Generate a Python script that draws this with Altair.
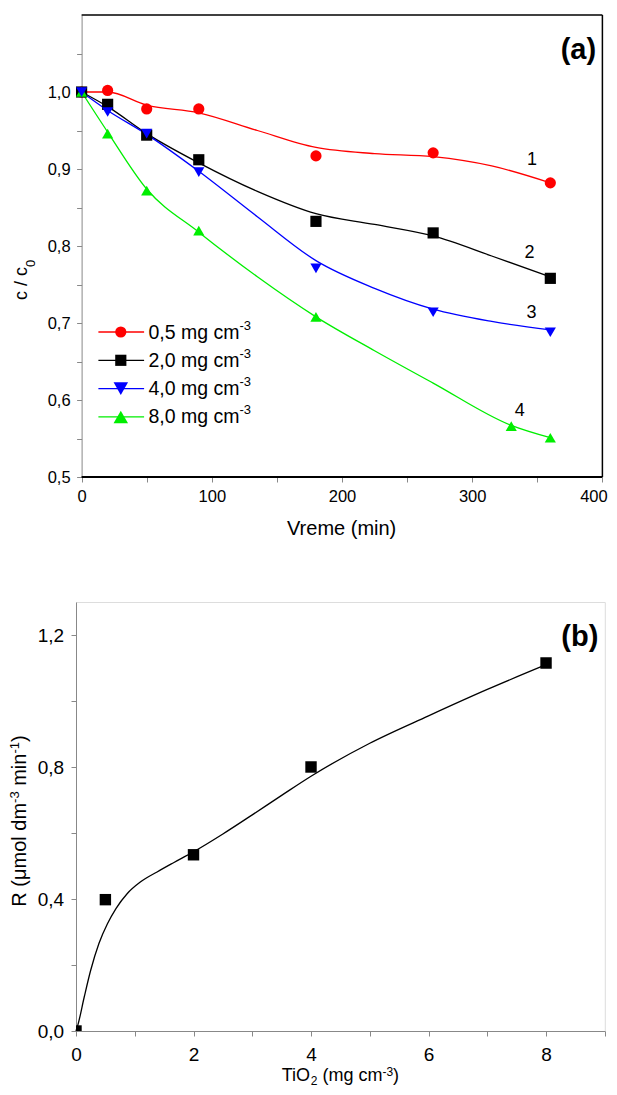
import altair as alt
import pandas as pd

FONT = "Liberation Sans"

# ---------------- Panel (a) data ----------------
series_names = ["0,5", "2,0", "4,0", "8,0"]
series_colors = ["#ff0000", "#000000", "#0000ff", "#00ee00"]
series_shapes = ["circle", "square", "triangle-down", "triangle-up"]
series_sizes = [125, 125, 210, 210]

t_a = [0, 20, 50, 90, 180, 270, 360]
c_05 = [1.0, 1.002, 0.978, 0.978, 0.917, 0.921, 0.882]
c_20 = [1.0, 0.984, 0.944, 0.912, 0.832, 0.817, 0.758]
c_40 = [1.0, 0.974, 0.946, 0.896, 0.771, 0.714, 0.688]
t_a8 = [0, 20, 50, 90, 180, 330, 360]
c_80 = [1.0, 0.946, 0.872, 0.820, 0.708, 0.566, 0.551]

# fitted curves
fit_t_05 = [0, 20, 50, 90, 135, 180, 225, 270, 315, 360]
fit_c_05 = [1.0, 1.0, 0.983, 0.973, 0.950, 0.928, 0.920, 0.916, 0.904, 0.882]
fit_t_20 = [0, 20, 50, 90, 135, 180, 225, 270, 315, 360]
fit_c_20 = [1.0, 0.981, 0.946, 0.908, 0.871, 0.842, 0.828, 0.813, 0.787, 0.760]
fit_t_40 = [0, 20, 50, 90, 135, 180, 225, 270, 315, 360]
fit_c_40 = [1.0, 0.976, 0.945, 0.897, 0.838, 0.781, 0.745, 0.718, 0.702, 0.691]
fit_t_80 = [0, 20, 50, 90, 135, 180, 225, 270, 330, 360]
fit_c_80 = [1.0, 0.948, 0.874, 0.818, 0.760, 0.708, 0.664, 0.622, 0.567, 0.551]

curve_labels = ["1", "2", "3", "4"]
curve_label_t = [346, 344, 345.5, 336.5]
curve_label_c = [0.912, 0.791, 0.713, 0.586]

# axis limits of panel (a)
t_lim = [0, 400]
c_lim = [0.5, 1.1]

# ---------------- Panel (b) data ----------------
tio2 = [0, 0.5, 2, 4, 8]
rate = [0.0, 0.398, 0.534, 0.800, 1.115]
fit_x = [0, 0.03, 0.14, 0.25, 0.39, 0.535, 0.68, 0.87, 1.10, 1.38, 1.66, 2.0, 2.5, 3.0, 3.5, 4.0, 5.0, 6.0, 7.0, 8.0]
fit_r = [0, 0.017, 0.103, 0.184, 0.265, 0.325, 0.371, 0.416, 0.452, 0.482, 0.510, 0.543, 0.597, 0.655, 0.714, 0.772, 0.872, 0.955, 1.035, 1.11]

# ---------------- helpers ----------------
W = {" ": 278, "(": 333, ")": 333, "/": 278, ",": 278, "-": 333, "a": 556, "c": 500,
     "d": 556, "e": 556, "g": 556, "i": 222, "l": 222, "m": 833, "n": 556, "o": 556,
     "r": 333, "R": 722, "T": 611, "O": 778, "V": 667, "μ": 576}


def tw(s, size):
    return sum(W.get(ch, 556) for ch in s) / 1000.0 * size


def rich(segs, x, y, size, ssize, sub_dy, sup_dy, angle=0, center=True):
    widths = [tw(t, size if k == "n" else ssize) for t, k in segs]
    off = -sum(widths) / 2.0 if center else 0.0
    out = []
    for (t, k), w in zip(segs, widths):
        lead = len(t) - len(t.lstrip(" "))
        fs = size if k == "n" else ssize
        dy = 0 if k == "n" else (sub_dy if k == "sub" else sup_dy)
        kw = dict(align="left", baseline="alphabetic", font=FONT, fontSize=fs,
                  dx=off + tw(" " * lead, fs), dy=dy, color="black")
        if angle:
            kw["angle"] = angle
        out.append(
            alt.Chart(pd.DataFrame({"s": [t.lstrip(" ")]}))
            .mark_text(**kw)
            .encode(x=alt.value(x), y=alt.value(y), text="s:N")
        )
        off += w
    return out


# ---------------- Panel (a) ----------------
WA, HA = 526.4, 462
SHIFT = 5.6  # panel (a) plot starts this many px right of panel (b)'s
d0 = -SHIFT * t_lim[1] / (WA - SHIFT)

pts_rows = []
for name, ts, cs in [("0,5", t_a, c_05), ("2,0", t_a, c_20), ("8,0", t_a8, c_80), ("4,0", t_a, c_40)]:
    for t, c in zip(ts, cs):
        pts_rows.append({"series": name, "t": t, "c": c})
df_pts_a = pd.DataFrame(pts_rows)

fit_rows = []
for name, ts, cs in [("0,5", fit_t_05, fit_c_05), ("2,0", fit_t_20, fit_c_20),
                     ("4,0", fit_t_40, fit_c_40), ("8,0", fit_t_80, fit_c_80)]:
    for t, c in zip(ts, cs):
        fit_rows.append({"series": name, "t": t, "c": c})
df_fit_a = pd.DataFrame(fit_rows)

xa = alt.X("t:Q", scale=alt.Scale(domain=[d0, t_lim[1]], nice=False, zero=False),
           axis=alt.Axis(values=list(range(0, 401, 50)), title=None, grid=False, domain=False,
                         labelExpr="datum.value % 100 === 0 ? format(datum.value, 'd') : ''",
                         labelOffset={"condition": {"test": "datum.value === 400", "value": -9}, "value": 0},
                         labelFontSize=16.5, labelPadding=6, labelFlush=False, labelOverlap=False))
ya = alt.Y("c:Q", scale=alt.Scale(domain=c_lim, nice=False, zero=False),
           axis=alt.Axis(values=[round(0.5 + 0.05 * i, 2) for i in range(12)], title=None, grid=False,
                         offset=-SHIFT,
                         labelExpr="abs(datum.value*10 - round(datum.value*10)) < 0.001 && datum.value < 1.05 ? replace(format(datum.value, '.1f'), '.', ',') : ''",
                         labelFontSize=16.5, labelPadding=6.5, labelFlush=False, labelOverlap=False))
col = alt.Color("series:N", scale=alt.Scale(domain=series_names, range=series_colors), legend=None)

frame_a = pd.DataFrame({
    "t": [t_lim[0], t_lim[0], t_lim[1]], "t2": [t_lim[1], t_lim[1], t_lim[1]],
    "c": [c_lim[0], c_lim[1], c_lim[0]], "c2": [c_lim[0], c_lim[1], c_lim[1]],
    "w": [1.8, 1.5, 1.5]})
frame_rules = alt.Chart(frame_a).mark_rule(color="black").encode(
    x=xa, x2="t2:Q", y=ya, y2="c2:Q",
    strokeWidth=alt.StrokeWidth("w:Q", scale=None, legend=None))

lines_a = alt.Chart(df_fit_a).mark_line(strokeWidth=1.3, interpolate="monotone").encode(
    x=xa, y=ya, color=col, detail="series:N")
points_a = alt.Chart(df_pts_a).mark_point(filled=True, opacity=1).encode(
    x=xa, y=ya, color=col,
    shape=alt.Shape("series:N", scale=alt.Scale(domain=series_names, range=series_shapes), legend=None),
    size=alt.Size("series:N", scale=alt.Scale(domain=series_names, range=series_sizes), legend=None))
labels_a = alt.Chart(pd.DataFrame({"lab": curve_labels, "t": curve_label_t, "c": curve_label_c})).mark_text(
    font=FONT, fontSize=18, color="black").encode(x=xa, y=ya, text="lab:N")

layers_a = [frame_rules, lines_a, points_a, labels_a]

# legend (manual, to keep line + marker + superscript)
leg_y0, leg_dy = 317, 28.3
for i, name in enumerate(series_names):
    ry = leg_y0 + i * leg_dy
    one = pd.DataFrame({"s": [name]})
    layers_a.append(alt.Chart(one).mark_rule(color=series_colors[i], strokeWidth=1.3).encode(
        x=alt.value(SHIFT + 16.8), x2=alt.value(SHIFT + 62.5), y=alt.value(ry)))
    layers_a.append(alt.Chart(one).mark_point(filled=True, opacity=1, shape=series_shapes[i],
                                              size=series_sizes[i], color=series_colors[i]).encode(
        x=alt.value(SHIFT + 39.2), y=alt.value(ry)))
    layers_a += rich([(name + " mg cm", "n"), ("-3", "sup")], SHIFT + 66.8, ry + 6.5, 19.5, 13, 0, -9,
                     center=False)

layers_a.append(alt.Chart(pd.DataFrame({"s": ["(a)"]})).mark_text(
    align="right", baseline="middle", font=FONT, fontSize=29, fontWeight="bold", color="black").encode(
    x=alt.value(WA - 6.3), y=alt.value(34.5), text="s:N"))
layers_a += rich([("Vreme (min)", "n")], SHIFT + (WA - SHIFT) / 2, HA + 58.3, 20, 13, 0, 0)
layers_a += rich([("c / c", "n"), ("0", "sub")], SHIFT - 54.5, 265, 18, 13, 8, 0, angle=270)

panel_a = alt.layer(*layers_a).properties(width=WA, height=HA, view=alt.ViewBackground(stroke="transparent"))

# ---------------- Panel (b) ----------------
WB, HB = 528.8, 429
xb = alt.X("x:Q", scale=alt.Scale(domain=[0, 9], nice=False, zero=False),
           axis=alt.Axis(values=list(range(0, 10)), title=None, grid=False,
                         labelExpr="datum.value % 2 === 0 ? format(datum.value, 'd') : ''",
                         labelFontSize=19, labelPadding=9.5, labelFlush=False, labelOverlap=False))
yb = alt.Y("y:Q", scale=alt.Scale(domain=[0, 1.3], nice=False, zero=False),
           axis=alt.Axis(values=[round(0.2 * i, 2) for i in range(7)], title=None, grid=False,
                         labelExpr="abs(datum.value/0.4 - round(datum.value/0.4)) < 0.001 ? replace(format(datum.value, '.1f'), '.', ',') : ''",
                         labelFontSize=19, labelPadding=7.3, labelFlush=False, labelOverlap=False))

line_b = alt.Chart(pd.DataFrame({"x": fit_x, "y": fit_r})).mark_line(
    color="black", strokeWidth=1.3, interpolate="monotone").encode(x=xb, y=yb)
points_b = alt.Chart(pd.DataFrame({"x": tio2, "y": rate})).mark_point(
    filled=True, opacity=1, shape="square", size=130, color="black", clip=True).encode(x=xb, y=yb)

layers_b = [line_b, points_b]
layers_b.append(alt.Chart(pd.DataFrame({"s": ["(b)"]})).mark_text(
    align="right", baseline="middle", font=FONT, fontSize=29, fontWeight="bold", color="black").encode(
    x=alt.value(WB - 6.5), y=alt.value(35), text="s:N"))
layers_b += rich([("TiO", "n"), ("2", "sub"), (" (mg cm", "n"), ("-3", "sup"), (")", "n")],
                 WB / 2, HB + 50, 18, 12, 4, -5)
layers_b += rich([("R (μmol dm", "n"), ("-3", "sup"), (" min", "n"), ("-1", "sup"), (")", "n")],
                 -50, 219, 20, 13, 0, -7, angle=270)
layers_b.append(alt.Chart(pd.DataFrame({"s": ["x"]})).mark_rule(strokeOpacity=0).encode(
    x=alt.value(-67), y=alt.value(0), y2=alt.value(10)))

panel_b = alt.layer(*layers_b).properties(width=WB, height=HB)

chart = alt.ConcatChart(concat=[panel_a, panel_b], columns=1, spacing=61,
                        padding={"left": 0, "top": 5, "right": 0, "bottom": 1}).configure_view(
    stroke="black", strokeWidth=1.5).configure_axis(
    domainColor="black", domainWidth=1.8, tickColor="black", tickWidth=1.2, tickSize=6,
    labelFont=FONT, labelColor="black").configure(background="white")

chart.save("out.html", embed_options={"renderer": "svg", "actions": False})
